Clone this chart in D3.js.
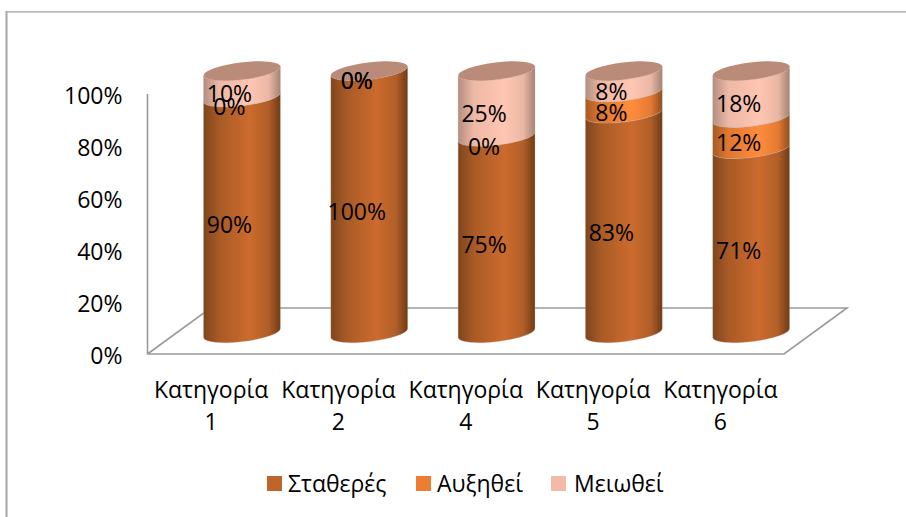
<!DOCTYPE html>
<html><head><meta charset="utf-8">
<script src="https://cdn.jsdelivr.net/npm/d3@7"></script>
<style>html,body{margin:0;padding:0;background:#fff}svg{display:block}text{font-family:"Open Sans","Noto Sans",sans-serif;fill:#000}</style>
</head><body><div id="c"></div>
<script>
const categories = ["Κατηγορία 1","Κατηγορία 2","Κατηγορία 4","Κατηγορία 5","Κατηγορία 6"];
const seriesNames = ["Σταθερές","Αυξηθεί","Μειωθεί"];
const stathero = [90,100,75,83,71];
const auxithei = [0,0,0,8,12];
const meiothei = [10,0,25,8,18];
const tickValues = [0,0.2,0.4,0.6,0.8,1];
const legendColors = ["#c0652a","#ed7d31","#f4b9a7"];

const W=906,H=517,FS=23;
const svg=d3.select("#c").append("svg").attr("width",W).attr("height",H);
const defs=svg.append("defs");

const x=d3.scaleBand().domain(categories).range([147.5,784]);
const y=d3.scaleLinear().domain([0,1]).range([354,94]);
const yCyl=d3.scaleLinear().domain([0,1]).range([333,71]);
const yLab=d3.scaleLinear().domain([0,1]).range([342,80]);

const rows=categories.map((c,i)=>({cat:c,[seriesNames[0]]:stathero[i],[seriesNames[1]]:auxithei[i],[seriesNames[2]]:meiothei[i]}));
const stacked=d3.stack().keys(seriesNames).offset(d3.stackOffsetExpand)(rows);
const rawValues=[stathero,auxithei,meiothei];

// chart frame
svg.append("path").attr("fill","none").attr("stroke","#a0a0a0").attr("stroke-width",1.3)
  .attr("d","M906,11.8H6.5");
svg.append("path").attr("fill","none").attr("stroke","#a6a6a6").attr("stroke-width",2)
  .attr("d","M6.5,11V517");

// floor and walls
const dx=63,dy=46,grey="#9a9a9a";
const x0=x.range()[0],x1=x.range()[1],y0=y(0),y1=y(1);
svg.append("path").attr("fill","none").attr("stroke",grey).attr("stroke-width",1.6)
 .attr("d",`M${x0},${y1}V${y0}H${x1}L${x1+dx},${y0-dy}H${x0+dx}L${x0},${y0}`);

// axes
const axisY=d3.axisLeft(y).tickValues(tickValues).tickFormat(d3.format(".0%")).tickSize(0).tickPadding(25);
const gy=svg.append("g").attr("transform",`translate(${x0},2)`).call(axisY);
gy.select(".domain").remove();
gy.selectAll("text").attr("font-size",FS).style("font-family",'"Open Sans"').attr("fill","#000");

const axisX=d3.axisBottom(x).tickSize(0).tickFormat("");
const gx=svg.append("g").attr("transform",`translate(0,${y0})`).call(axisX);
gx.select(".domain").remove();
gx.selectAll(".tick").each(function(d){
  const parts=d.split(" ");
  const t=d3.select(this).append("text").attr("text-anchor","middle").attr("font-size",FS);
  t.append("tspan").attr("x",0).attr("y",44).text(parts[0]);
  t.append("tspan").attr("x",0).attr("y",76).text(parts[1]);
});

// cylinders
const rx=38.7,ry=8.6,rot=-7,rad=rot*Math.PI/180;
const cosR=Math.cos(rad)*rx,sinR=Math.sin(rad)*rx;
const cylX=c=>x(c)+x.bandwidth()/2+30.8;
const gradStops={
 "Σταθερές":["#7f451c","#a85a26","#cc6b2d","#b05e28","#6f3b16"],
 "Αυξηθεί":["#a85a24","#e07730","#ff8c3c","#e57a33","#8f4e1f"],
 "Μειωθεί":["#b38e80","#edb8a5","#ffc6b2","#eab7a4","#a48375"]
};
seriesNames.forEach((s,i)=>{
  const g=defs.append("linearGradient").attr("id","g"+i);
  const offs=[0,0.2,0.6,0.85,1];
  gradStops[s].forEach((col,k)=>g.append("stop").attr("offset",offs[k]).attr("stop-color",col));
});
const segPath=(cx,yBottom,yTop)=>{
  const lx=cx-cosR,rxp=cx+cosR;
  return `M${lx},${yTop-sinR}A${rx},${ry} ${rot} 0 0 ${rxp},${yTop+sinR}`+
         `L${rxp},${yBottom+sinR}A${rx},${ry} ${rot} 0 1 ${lx},${yBottom-sinR}Z`;
};
const ell=(sel,cx,cy,fill)=>sel.append("ellipse").attr("rx",rx).attr("ry",ry)
  .attr("transform",`translate(${cx},${cy}) rotate(${rot})`).attr("fill",fill);

categories.forEach((c,j)=>{
  const g=svg.append("g").attr("class","cyl");
  const cx=cylX(c);
  stacked.forEach((ser,i)=>{
    const [a,b]=ser[j];
    if(b-a<=0) return;
    g.append("path").attr("d",segPath(cx,yCyl(a),yCyl(b))).attr("fill",`url(#g${i})`)
      .attr("stroke","#b9a79c").attr("stroke-width",0.5).attr("stroke-opacity",0.6);
  });
  ell(g,cx,yCyl(1),"#bb8b79");
});

// data labels
stacked.forEach((ser,i)=>{
  categories.forEach((c,j)=>{
    const [a,b]=ser[j];
    svg.append("text").attr("x",cylX(c)-12.5).attr("y",yLab((a+b)/2))
      .attr("text-anchor","middle").attr("dominant-baseline","central").attr("font-size",FS)
      .text(rawValues[i][j]+"%");
  });
});

// legend
const lx=[267,416,551], ltx=[288,437,574];
seriesNames.forEach((s,i)=>{
  svg.append("rect").attr("x",lx[i]).attr("y",476).attr("width",15).attr("height",15).attr("fill",legendColors[i]);
  svg.append("text").attr("x",ltx[i]).attr("y",483).attr("dominant-baseline","central").attr("font-size",FS).text(s);
});
</script></body></html>
